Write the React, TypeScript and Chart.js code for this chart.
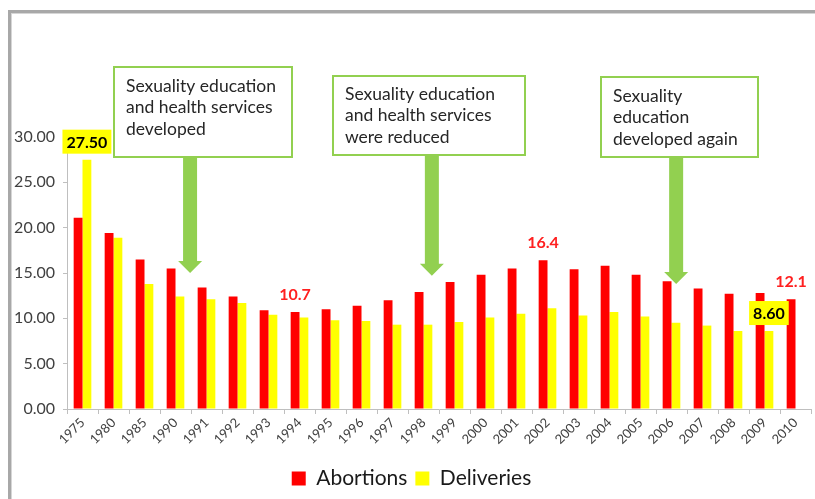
import React, { useEffect, useRef } from 'react';
import { Chart, registerables } from 'chart.js';

Chart.register(...registerables);

const years = ['1975', '1980', '1985', '1990', '1991', '1992', '1993', '1994', '1995', '1996', '1997', '1998', '1999', '2000', '2001', '2002', '2003', '2004', '2005', '2006', '2007', '2008', '2009', '2010'];
const abortions = [21.1, 19.4, 16.5, 15.5, 13.4, 12.4, 10.9, 10.7, 11.0, 11.4, 12.0, 12.9, 14.0, 14.8, 15.5, 16.4, 15.4, 15.8, 14.8, 14.1, 13.3, 12.7, 12.8, 12.1];
const deliveries = [27.5, 18.9, 13.8, 12.4, 12.1, 11.7, 10.4, 10.1, 9.8, 9.7, 9.3, 9.3, 9.6, 10.1, 10.5, 11.1, 10.3, 10.7, 10.2, 9.5, 9.2, 8.6, 8.6, null];
const seriesNames = ['Abortions', 'Deliveries'];
const yMin = 0;
const yMax = 30;
const yStep = 5;

// labelled values: dataset index, category index, decimals, boxed
const valueLabels = [
  { ds: 1, idx: 0, decimals: 2, boxed: true },
  { ds: 0, idx: 7, decimals: 1, boxed: false },
  { ds: 0, idx: 15, decimals: 1, boxed: false },
  { ds: 1, idx: 22, decimals: 2, boxed: true },
  { ds: 0, idx: 23, decimals: 1, boxed: false },
];

const callouts = [
  { lines: ['Sexuality education', 'and health services', 'developed'], tipIndex: 3.47, tipValue: 15.0 },
  { lines: ['Sexuality education', 'and health services', 'were reduced'], tipIndex: 11.27, tipValue: 14.7 },
  { lines: ['Sexuality', 'education', 'developed again'], tipIndex: 19.15, tipValue: 13.8 },
];
// layout of callout boxes (pixels): left, top, right, bottom, text top
const calloutBoxes = [
  { l: 114, t: 67, r: 292, b: 157, ty: 86 },
  { l: 333, t: 76, r: 525, b: 155, ty: 94 },
  { l: 601, t: 77, r: 758, b: 157, ty: 96 },
];

const FONT = 'Lato, "DejaVu Sans", sans-serif';
const GREEN = '#92D050';

const decorPlugin = {
  id: 'decor',
  beforeDraw(chart: any) {
    const ctx = chart.ctx;
    ctx.save();
    ctx.fillStyle = '#ffffff';
    ctx.fillRect(0, 0, chart.width, chart.height);
    ctx.restore();
  },
  afterDatasetsDraw(chart: any) {
    const ctx = chart.ctx;
    const xs = chart.scales.x;
    const ys = chart.scales.y;
    ctx.save();
    // callouts
    callouts.forEach((c, i) => {
      const b = calloutBoxes[i];
      const tipX = xs.getPixelForValue(c.tipIndex);
      const tipY = ys.getPixelForValue(c.tipValue);
      const shaft = 7;
      const head = 12;
      const headLen = 12;
      ctx.fillStyle = GREEN;
      ctx.beginPath();
      ctx.moveTo(tipX - shaft, b.b);
      ctx.lineTo(tipX + shaft, b.b);
      ctx.lineTo(tipX + shaft, tipY - headLen);
      ctx.lineTo(tipX + head, tipY - headLen);
      ctx.lineTo(tipX, tipY);
      ctx.lineTo(tipX - head, tipY - headLen);
      ctx.lineTo(tipX - shaft, tipY - headLen);
      ctx.closePath();
      ctx.fill();
      ctx.fillStyle = '#ffffff';
      ctx.fillRect(b.l, b.t, b.r - b.l, b.b - b.t);
      ctx.strokeStyle = GREEN;
      ctx.lineWidth = 2;
      ctx.strokeRect(b.l, b.t, b.r - b.l, b.b - b.t);
      ctx.fillStyle = '#262626';
      ctx.font = '17.5px ' + FONT;
      ctx.textAlign = 'left';
      ctx.textBaseline = 'middle';
      c.lines.forEach((ln, k) => {
        ctx.fillText(ln, b.l + 12, b.ty + k * 21.5);
      });
    });
    // value labels
    valueLabels.forEach((v) => {
      const el = chart.getDatasetMeta(v.ds).data[v.idx];
      const val = (chart.data.datasets[v.ds].data as any[])[v.idx];
      if (!el || val == null) return;
      const text = Number(val).toFixed(v.decimals);
      const cx = el.x;
      const cy = el.y - 18;
      ctx.font = 'bold 16px ' + FONT;
      ctx.textAlign = 'center';
      ctx.textBaseline = 'middle';
      if (v.boxed) {
        const w = ctx.measureText(text).width + 8;
        ctx.fillStyle = '#FFFF00';
        ctx.fillRect(cx - w / 2, cy - 12, w, 24);
        ctx.fillStyle = '#000000';
      } else {
        ctx.fillStyle = '#FF2020';
      }
      ctx.fillText(text, cx, cy + 1);
    });
    ctx.restore();
  },
  afterDraw(chart: any) {
    const ctx = chart.ctx;
    const ca = chart.chartArea;
    ctx.save();
    // clean right margin above the axis
    ctx.fillStyle = '#ffffff';
    ctx.fillRect(ca.right - 3, 0, chart.width - ca.right + 3, ca.bottom - 1);
    // frame (top and left edges of the chart box)
    ctx.fillStyle = '#a8a8a8';
    ctx.fillRect(8, 10, chart.width - 8, 3);
    ctx.fillRect(8, 10, 3, chart.height - 10);
    ctx.fillStyle = '#d6d6d6';
    ctx.fillRect(11, 13, chart.width - 11, 1);
    ctx.fillRect(11, 13, 1, chart.height - 13);
    ctx.restore();
  },
};

export default function App() {
  const ref = useRef<HTMLCanvasElement | null>(null);
  useEffect(() => {
    document.documentElement.style.overflow = 'hidden';
    document.body.style.overflow = 'hidden';
    document.body.style.margin = '0';
    if (!ref.current) return;
    const chart = new Chart(ref.current, {
      type: 'bar',
      data: {
        labels: years,
        datasets: [
          { label: seriesNames[0], data: abortions, backgroundColor: '#FF0000', categoryPercentage: 0.57, barPercentage: 1 },
          { label: seriesNames[1], data: deliveries as any, backgroundColor: '#FFFF00', categoryPercentage: 0.57, barPercentage: 1 },
        ],
      },
      options: {
        responsive: false,
        animation: false,
        layout: { padding: { top: 137, left: 12, right: 4, bottom: 0 } },
        plugins: {
          legend: {
            position: 'bottom',
            labels: {
              boxWidth: 14,
              boxHeight: 14,
              padding: 8,
              color: '#1a1a1a',
              font: { family: FONT, size: 21 },
            },
          },
          tooltip: { enabled: false },
        },
        scales: {
          x: {
            grid: { display: true, drawOnChartArea: false, drawTicks: true, tickLength: 5, color: '#BFBFBF', offset: true },
            border: { color: '#BFBFBF' },
            ticks: {
              color: '#404040',
              font: { family: FONT, size: 13 },
              minRotation: 45,
              maxRotation: 45,
              autoSkip: false,
              padding: 1,
            },
            afterFit: (s: any) => { s.height = 51; },
          },
          y: {
            min: yMin,
            max: yMax,
            grid: { display: true, drawOnChartArea: false, drawTicks: true, tickLength: 4, color: '#BFBFBF' },
            border: { color: '#BFBFBF' },
            ticks: {
              stepSize: yStep,
              color: '#404040',
              font: { family: FONT, size: 16 },
              padding: 8,
              callback: (v: any) => Number(v).toFixed(2),
            },
            afterFit: (s: any) => { s.width = 55; },
          },
        },
      },
      plugins: [decorPlugin],
    });
    return () => chart.destroy();
  }, []);
  return (
    <div style={{ position: 'fixed', left: 0, top: 0, width: 815, height: 499, overflow: 'hidden' }}>
      <canvas ref={ref} width={815} height={499} style={{ display: 'block' }} />
    </div>
  );
}
